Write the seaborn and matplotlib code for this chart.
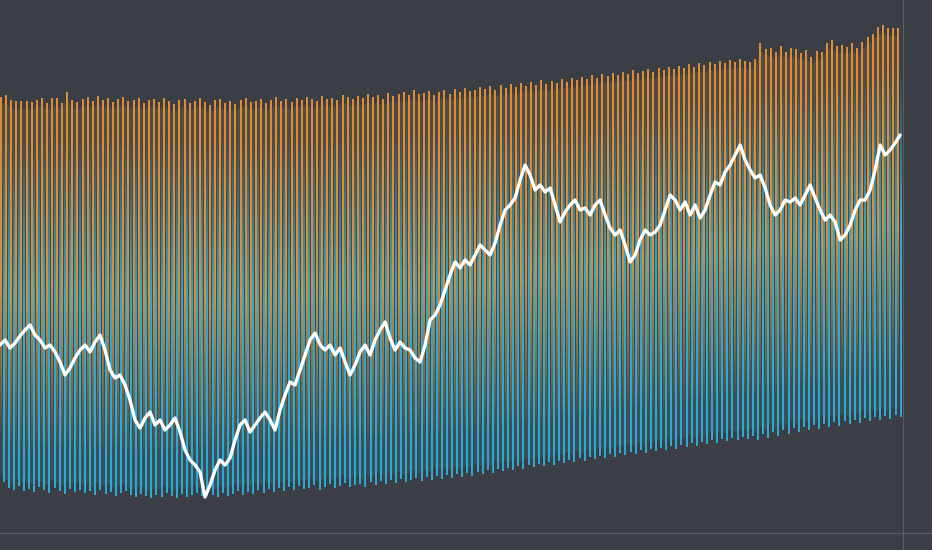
"""
Gradient range bars with a trend line on a dark background.
"""

import numpy as np
import matplotlib
matplotlib.use("Agg")
import matplotlib.pyplot as plt
import seaborn as sns
from matplotlib.collections import LineCollection
from matplotlib.colors import to_rgb, LinearSegmentedColormap

# per-bar range (level units, higher = up)
highs = [453, 455, 450, 449, 449, 449, 448, 450, 452, 447, 452, 452, 447, 458, 450, 448,
         451, 453, 449, 454, 450, 452, 448, 451, 453, 449, 450, 452, 447, 450,
         451, 448, 452, 449, 446, 450, 451, 447, 449, 452, 448, 445, 450, 451, 447, 449, 446, 450, 452, 448,
         449, 451, 447, 450, 453, 449, 451, 448, 452, 450, 453, 451, 449, 454, 451, 452, 450, 455, 453, 451,
         454, 452, 456, 453, 455, 451, 457, 454, 456, 458, 455, 460, 456, 457, 459, 455, 458, 460, 456, 461,
         458, 462, 459, 460, 463, 461, 464, 460, 465, 462, 466, 463, 467, 464, 468, 465, 470, 466, 469, 467,
         471, 468, 472, 470, 473, 471, 475, 472, 476, 474, 477, 475, 478, 476, 480, 477, 479, 481, 478, 482,
         480, 483, 481, 484, 482, 486, 483, 487, 485, 488, 486, 489, 487, 490, 488, 491, 489,
         488, 491, 507, 501, 502, 498, 504, 498, 502, 501, 497, 500, 493, 499, 498, 507, 510, 504, 505, 503,
         507, 502, 508, 513, 516, 523, 525, 522, 522, 522]

lows = [68, 62, 60, 64, 59, 61, 58, 63, 60, 57, 62, 59, 56, 61, 58, 60,
        57, 59, 55, 60, 56, 58, 54, 57, 59, 55, 53, 56, 54, 52,
        55, 53, 57, 54, 52, 56, 53, 55, 57, 54, 58, 55, 53, 57, 54, 56, 59, 55, 58, 56,
        60, 57, 61, 58, 62, 59, 63, 60, 64, 61, 62, 65, 60, 63, 66, 62, 64, 67, 63, 65,
        66, 63, 68, 65, 69, 66, 70, 67, 71, 68, 70, 72, 69, 73, 70, 74, 71, 75, 72, 76,
        73, 77, 74, 78, 76, 80, 77, 81, 79, 82, 80, 84, 81, 85, 83, 86, 84, 88, 85, 89,
        87, 90, 88, 92, 89, 93, 91, 94, 92, 96, 93, 97, 95, 98, 96, 100, 97, 101, 99, 102,
        100, 104, 101, 105, 103, 107, 104, 108, 106, 110, 107, 111, 109, 112, 110, 113, 111,
        114, 110, 116, 112, 118, 114, 120, 116, 122, 118, 123, 120, 125, 121, 126, 123, 128, 124, 129, 126,
        130, 127, 132, 129, 133, 130, 134, 131, 135, 133]

# trend line, sampled more finely than the bars
trend = [205, 210, 202, 207, 214, 220, 225, 215, 210, 202,
         205, 198, 188, 175, 182, 192, 200, 205, 198, 208,
         215, 200, 180, 172, 175, 165, 150, 130, 122, 132,
         138, 125, 130, 120, 125, 132, 118, 100, 90, 85,
         78, 53, 65, 80, 90, 85, 92, 110, 125, 130,
         118, 125, 132, 138, 130, 120, 140, 155, 168, 165,
         180, 195, 210, 217, 205, 200, 205, 195, 202, 188,
         175, 185, 198, 205, 195, 210, 220, 228, 212, 200,
         208, 202, 200, 192, 188, 205, 230, 235, 245, 260,
         275, 288, 282, 290, 285, 295, 305, 300, 295, 307,
         325, 340, 345, 352, 370, 385, 375, 360, 365, 358,
         362, 345, 328, 338, 345, 350, 340, 342, 335, 345,
         350, 335, 322, 315, 320, 305, 288, 295, 310, 320,
         315, 318, 325, 340, 355, 350, 340, 348, 335, 345,
         332, 340, 355, 368, 365, 378, 385, 395, 405, 390,
         380, 372, 375, 362, 345, 335, 340, 350, 348, 352,
         345, 355, 365, 352, 340, 330, 335, 328, 310, 315,
         325, 340, 350, 350, 360, 380, 405, 395, 400, 407,
         415]

BG = "#3c3e46"
ORANGE = "#ef9531"
CYAN = "#2bb6de"
GRID = "#585b63"


def gradient_lines(xs, lo, hi, color, alpha_fn, steps=40):
    """Split each vertical bar into short pieces with a changing alpha."""
    rgb = to_rgb(color)
    segs, cols = [], []
    frac = np.linspace(0, 1, steps + 1)
    mids = (frac[:-1] + frac[1:]) / 2
    for x, a, b in zip(xs, lo, hi):
        ys = a + (b - a) * frac
        for k in range(steps):
            segs.append([(x, ys[k]), (x, ys[k + 1])])
            cols.append((*rgb, alpha_fn(mids[k])))
    return segs, cols


sns.set_theme(style="dark")
fig = plt.figure(figsize=(9.32, 5.5), dpi=100)
fig.patch.set_facecolor(BG)
ax = fig.add_axes([0, 0, 1, 1])
ax.set_facecolor(BG)

n = len(highs)
bar_x = np.arange(n)

# dim band behind the bars, cyan at the bottom turning orange at the top
band = ax.fill_between(bar_x, np.array(lows) + 8, np.array(highs) - 8,
                       color="none", linewidth=0)
cmap = LinearSegmentedColormap.from_list("band", [CYAN, "#5e8f86", ORANGE])
grad = np.linspace(0, 1, 256).reshape(-1, 1)
im = ax.imshow(grad, cmap=cmap, origin="lower", aspect="auto", alpha=0.16,
               extent=(-0.2, n, 40, 530), zorder=1)
im.set_clip_path(band.get_paths()[0], transform=ax.transData)

# orange bars strongest at the top, cyan bars strongest at the bottom
seg_o, col_o = gradient_lines(bar_x, lows, highs, ORANGE,
                              lambda f: 0.9 * float(np.clip((f - 0.1) / 0.4, 0, 1)))
seg_c, col_c = gradient_lines(bar_x + 0.5, lows, highs, CYAN,
                              lambda f: 0.9 * float(np.clip((0.9 - f) / 0.4, 0, 1)))
ax.add_collection(LineCollection(seg_c, colors=col_c, linewidths=1.45,
                                 capstyle="butt", zorder=2))
ax.add_collection(LineCollection(seg_o, colors=col_o, linewidths=1.45,
                                 capstyle="butt", zorder=2))

trend_x = np.linspace(-0.2, n - 0.6, len(trend))
sns.lineplot(x=trend_x, y=trend, color="white", linewidth=2.4, ax=ax, zorder=5)

ax.axvline(n, color=GRID, linewidth=0.9)
ax.axhline(17, color=GRID, linewidth=0.9)

ax.set_xlim(-0.2, 182.65)
ax.set_ylim(0, 550)
ax.set_xticks([])
ax.set_yticks([])
for s in ax.spines.values():
    s.set_visible(False)

fig.savefig("out.png", dpi=100, facecolor=BG)
